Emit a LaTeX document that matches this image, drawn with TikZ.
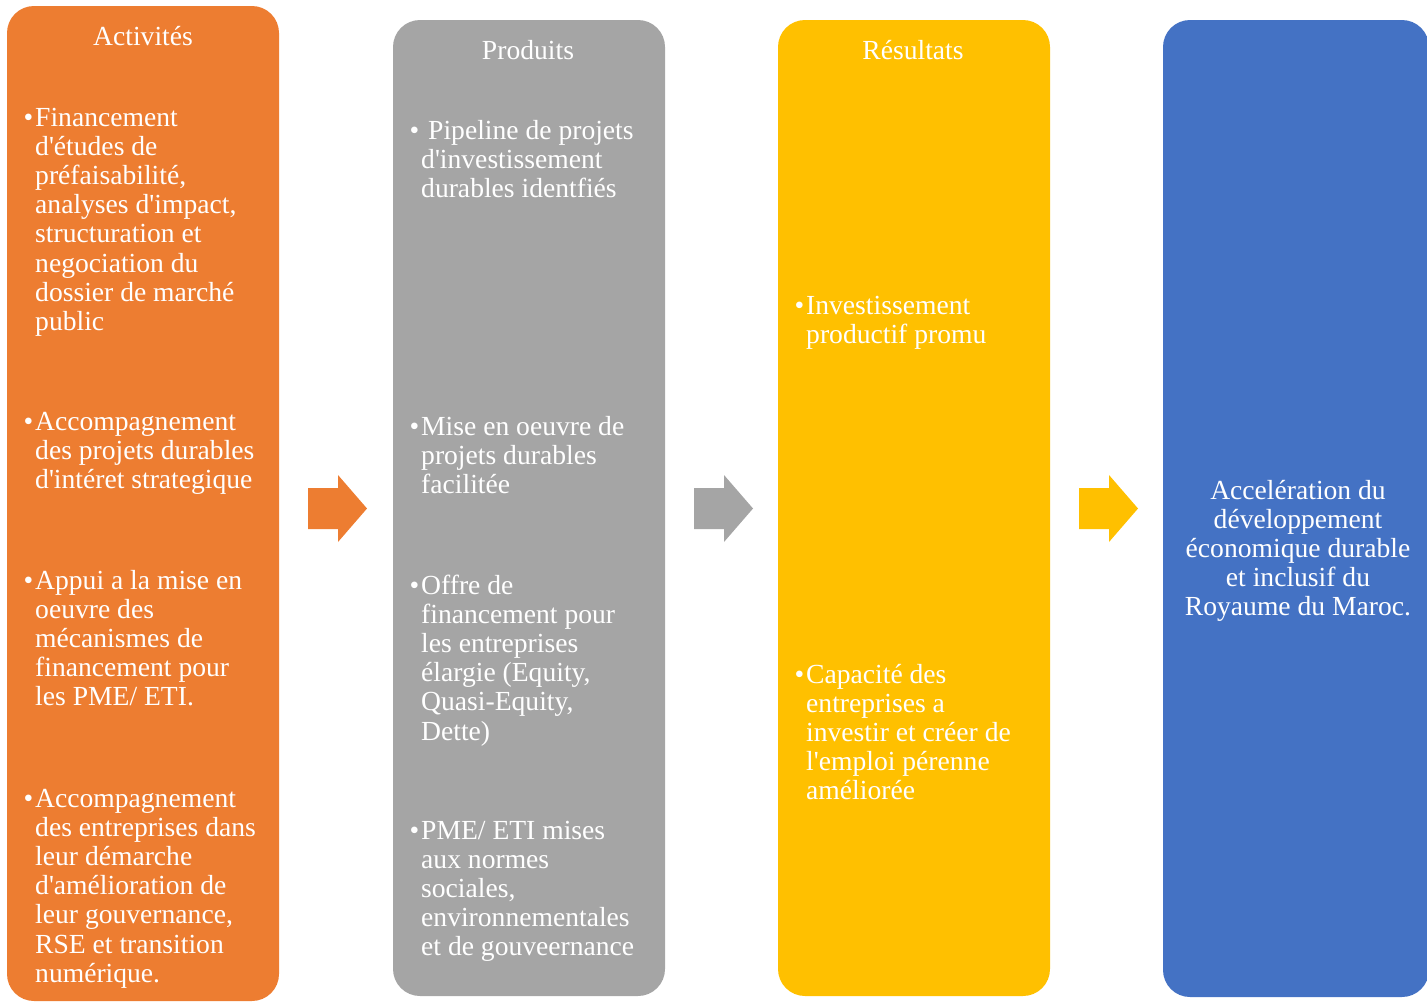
\documentclass[tikz,border=0pt]{standalone}
\usepackage{fontspec}
\setmainfont{Liberation Serif}[Ligatures=TeXOff]
\definecolor{cOrange}{HTML}{ED7D31}
\definecolor{cGray}{HTML}{A5A5A5}
\definecolor{cYellow}{HTML}{FFC000}
\definecolor{cBlue}{HTML}{4472C4}
\newcommand{\bul}{\llap{•\hspace{2pt}}}
\begin{document}
\begin{tikzpicture}[x=1pt,y=-1pt,
  colbox/.style={rectangle, rounded corners=27pt, inner sep=0pt, draw=none},
  txt/.style={text=white, font=\fontsize{27.6}{29.2}\selectfont, align=left, inner sep=0pt, anchor=base west},
  ttl/.style={text=white, font=\fontsize{27.6}{29.2}\selectfont, inner sep=0pt, anchor=base}]
\useasboundingbox (0,0) rectangle (1427,1004);
% columns
\node[colbox, fill=cOrange, minimum width=272pt, minimum height=995pt] (act) at (143,503.5) {};
\node[colbox, fill=cGray, minimum width=272pt, minimum height=976pt] (prod) at (529,508) {};
\node[colbox, fill=cYellow, minimum width=272pt, minimum height=976pt] (res) at (914,508) {};
\node[colbox, fill=cBlue, minimum width=266pt, minimum height=977pt] (imp) at (1296,508.5) {};
% arrows
\fill[cOrange] (308,488) -- (338,488) -- (338,475) -- (367,508.5) -- (338,542) -- (338,529) -- (308,529) -- cycle;
\fill[cGray] (694,488) -- (724,488) -- (724,475) -- (753,508.5) -- (724,542) -- (724,529) -- (694,529) -- cycle;
\fill[cYellow] (1079,488) -- (1109,488) -- (1109,475) -- (1138,508.5) -- (1109,542) -- (1109,529) -- (1079,529) -- cycle;
% titles
\node[ttl] (t1) at (143,45.5) {Activités};
\node[ttl] (t2) at (528,59.5) {Produits};
\node[ttl] (t3) at (913,59.5) {Résultats};
% column 1 (anchor = baseline of last line)
\node[txt] (a1) at (35,330.4) {\bul Financement\\d'études de\\préfaisabilité,\\analyses d'impact,\\structuration et\\negociation du\\dossier de marché\\public};
\node[txt] (a2) at (35,488.4) {\bul Accompagnement\\des projets durables\\d'intéret strategique};
\node[txt] (a3) at (35,705.8) {\bul Appui a la mise en\\oeuvre des\\mécanismes de\\financement pour\\les PME/ ETI.};
\node[txt] (a4) at (35,982.2) {\bul Accompagnement\\des entreprises dans\\leur démarche\\d'amélioration de\\leur gouvernance,\\RSE et transition\\numérique.};
% column 2
\node[txt] (p1) at (421,197.4) {\bul\hspace{7pt}Pipeline de projets\\d'investissement\\durables identfiés};
\node[txt] (p2) at (421,493.4) {\bul Mise en oeuvre de\\projets durables\\facilitée};
\node[txt] (p3) at (421,740) {\bul Offre de\\financement pour\\les entreprises\\élargie (Equity,\\Quasi-Equity,\\Dette)};
\node[txt] (p4) at (421,955.8) {\bul PME/ ETI mises\\aux normes\\sociales,\\environnementales\\et de gouveernance};
% column 3
\node[txt] (r1) at (806,343.2) {\bul Investissement\\productif promu};
\node[txt] (r2) at (806,799.8) {\bul Capacité des\\entreprises a\\investir et créer de\\l'emploi pérenne\\améliorée};
% column 4
\node[txt, align=center, anchor=base] (i1) at (1298,615.8) {Accelération du\\développement\\économique durable\\et inclusif du\\Royaume du Maroc.};
\end{tikzpicture}
\end{document}
